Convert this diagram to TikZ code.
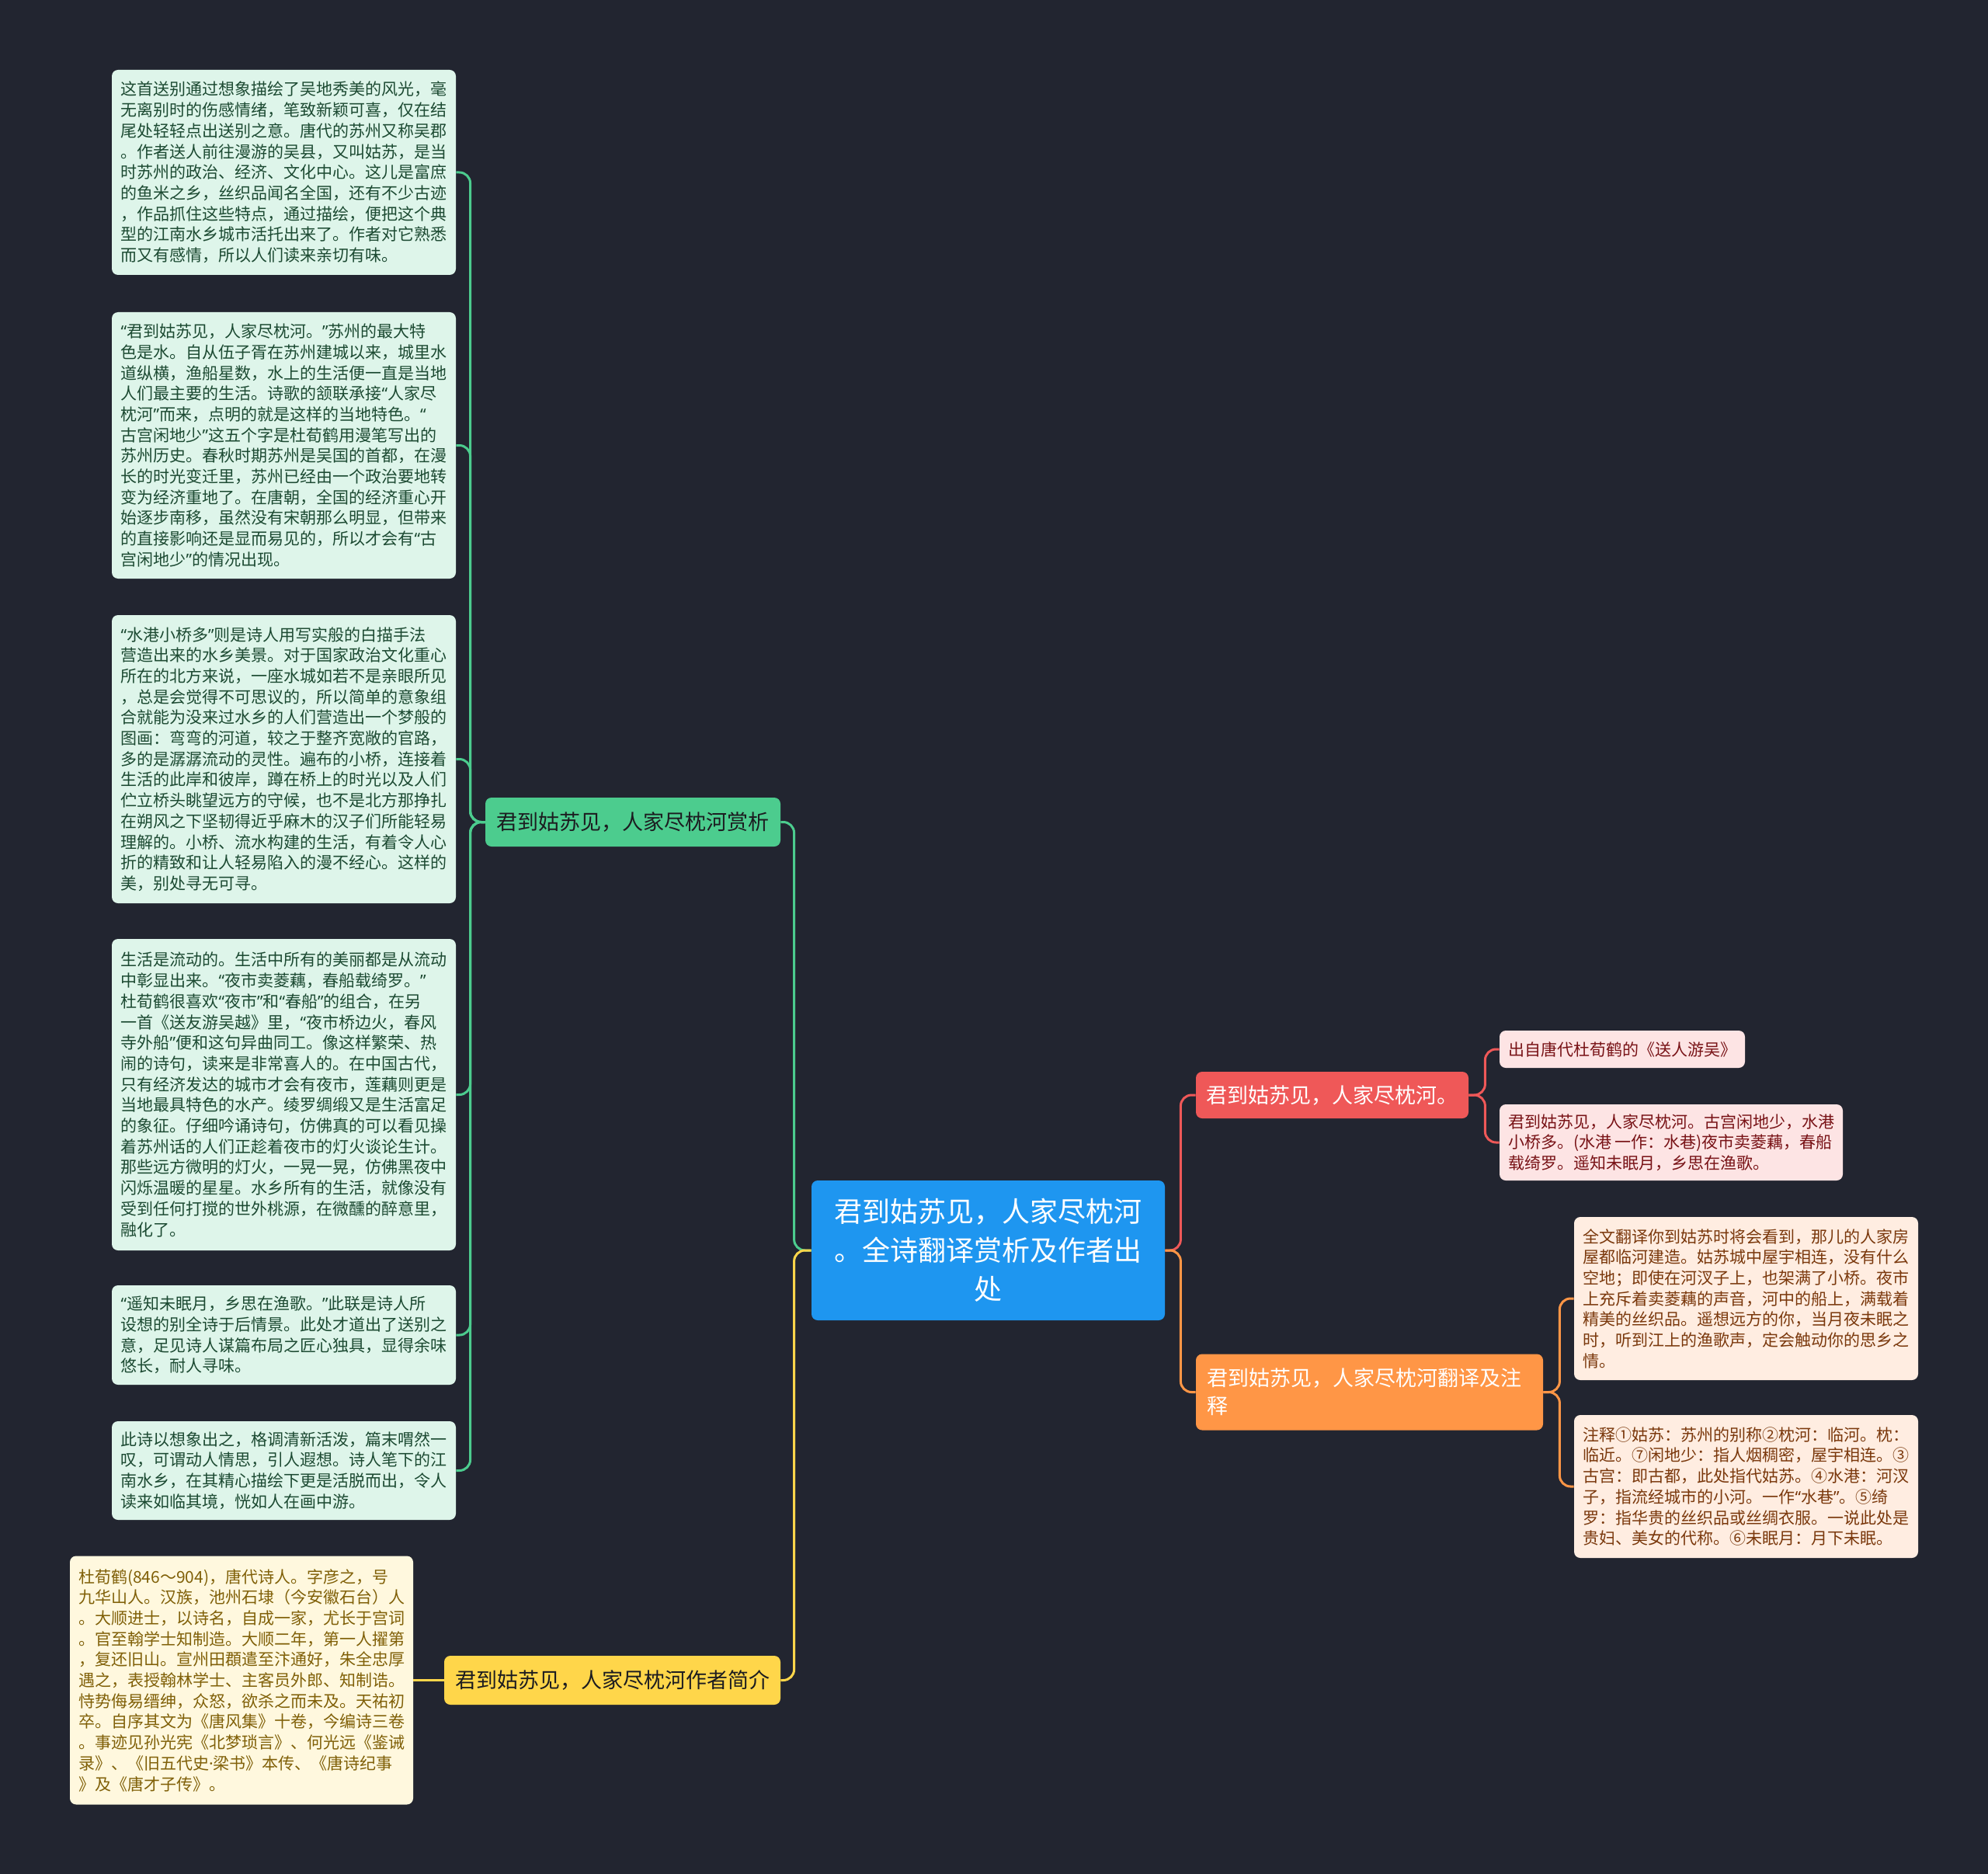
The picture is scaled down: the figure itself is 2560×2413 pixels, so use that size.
\documentclass[tikz,border=0pt]{standalone}
\usepackage{fontspec}
\setmainfont{Noto Sans CJK SC}
\newfontfamily\quotefont{Noto Sans}
\newcommand\qopen{{\quotefont “}}
\newcommand\qclose{{\quotefont ”}}
\newcommand\qdot{{\quotefont ·}}
\definecolor{night}{RGB}{34,37,48}
\definecolor{sky}{RGB}{30,150,240}
\definecolor{mint}{RGB}{76,204,142}
\definecolor{mintpale}{RGB}{222,245,234}
\definecolor{mintink}{RGB}{28,74,50}
\definecolor{sun}{RGB}{255,214,74}
\definecolor{sunpale}{RGB}{255,248,222}
\definecolor{sunink}{RGB}{128,96,8}
\definecolor{coral}{RGB}{239,88,88}
\definecolor{coralpale}{RGB}{253,228,228}
\definecolor{coralink}{RGB}{120,18,22}
\definecolor{tangerine}{RGB}{255,150,70}
\definecolor{tangerinepale}{RGB}{255,237,225}
\definecolor{tangerineink}{RGB}{122,56,12}
\definecolor{ink}{RGB}{28,28,32}
\tikzset{
  root/.style={fill=sky,text=white,rounded corners=4pt,inner sep=2pt,align=center,
    minimum width=227.5pt,minimum height=90pt,font=\fontsize{18pt}{25pt}\selectfont},
  branch/.style 2 args={fill=#1,text=#2,rounded corners=4pt,inner sep=2pt,
    font=\fontsize{13.5pt}{18pt}\selectfont},
  leaf/.style 2 args={fill=#1,text=#2,rounded corners=4pt,inner sep=2pt,align=left,
    minimum width=221.5pt,font=\fontsize{10.5pt}{13.35pt}\selectfont},
  link/.style={draw=#1,line width=1.5pt,rounded corners=7pt},
}
\begin{document}
\begin{tikzpicture}[x=0.5pt,y=-0.5pt]
  \fill[night] (0,0) rectangle (2560,2413);
  % centre
  \node[root] (root) at (1272.5,1610) {君到姑苏见，人家尽枕河\\。全诗翻译赏析及作者出\\处};
  % branches
  \node[branch={mint}{ink},minimum width=190pt,minimum height=31.5pt] (ana) at (815,1058.5) {君到姑苏见，人家尽枕河赏析};
  \node[branch={sun}{ink},minimum width=216.5pt,minimum height=31.5pt] (bio) at (788.5,2163.5) {君到姑苏见，人家尽枕河作者简介};
  \node[branch={coral}{white},minimum width=175.5pt,minimum height=30pt] (src) at (1715.5,1410) {君到姑苏见，人家尽枕河。};
  \node[branch={tangerine}{white},minimum width=223.5pt,minimum height=49pt,text width=209.5pt,align=left] (tr) at (1763.5,1792.5)
    {君到姑苏见，人家尽枕河翻译及注\\释};
  % analysis leaves
  \node[leaf={mintpale}{mintink},minimum height=132pt] (a1) at (365.5,222)
    {这首送别通过想象描绘了吴地秀美的风光，毫\\
     无离别时的伤感情绪，笔致新颖可喜，仅在结\\
     尾处轻轻点出送别之意。唐代的苏州又称吴郡\\
     。作者送人前往漫游的吴县，又叫姑苏，是当\\
     时苏州的政治、经济、文化中心。这儿是富庶\\
     的鱼米之乡，丝织品闻名全国，还有不少古迹\\
     ，作品抓住这些特点，通过描绘，便把这个典\\
     型的江南水乡城市活托出来了。作者对它熟悉\\
     而又有感情，所以人们读来亲切有味。};
  \node[leaf={mintpale}{mintink},minimum height=171.5pt] (a2) at (365.5,573.5)
    {\qopen 君到姑苏见，人家尽枕河。\qclose 苏州的最大特\\
     色是水。自从伍子胥在苏州建城以来，城里水\\
     道纵横，渔船星数，水上的生活便一直是当地\\
     人们最主要的生活。诗歌的颔联承接\qopen 人家尽\\
     枕河\qclose 而来，点明的就是这样的当地特色。\qopen\\
     古宫闲地少\qclose 这五个字是杜荀鹤用漫笔写出的\\
     苏州历史。春秋时期苏州是吴国的首都，在漫\\
     长的时光变迁里，苏州已经由一个政治要地转\\
     变为经济重地了。在唐朝，全国的经济重心开\\
     始逐步南移，虽然没有宋朝那么明显，但带来\\
     的直接影响还是显而易见的，所以才会有\qopen 古\\
     宫闲地少\qclose 的情况出现。};
  \node[leaf={mintpale}{mintink},minimum height=185.5pt] (a3) at (365.5,977.5)
    {\qopen 水港小桥多\qclose 则是诗人用写实般的白描手法\\
     营造出来的水乡美景。对于国家政治文化重心\\
     所在的北方来说，一座水城如若不是亲眼所见\\
     ，总是会觉得不可思议的，所以简单的意象组\\
     合就能为没来过水乡的人们营造出一个梦般的\\
     图画：弯弯的河道，较之于整齐宽敞的官路，\\
     多的是潺潺流动的灵性。遍布的小桥，连接着\\
     生活的此岸和彼岸，蹲在桥上的时光以及人们\\
     伫立桥头眺望远方的守候，也不是北方那挣扎\\
     在朔风之下坚韧得近乎麻木的汉子们所能轻易\\
     理解的。小桥、流水构建的生活，有着令人心\\
     折的精致和让人轻易陷入的漫不经心。这样的\\
     美，别处寻无可寻。};
  \node[leaf={mintpale}{mintink},minimum height=200.5pt] (a4) at (365.5,1409.5)
    {生活是流动的。生活中所有的美丽都是从流动\\
     中彰显出来。\qopen 夜市卖菱藕，春船载绮罗。\qclose\\
     杜荀鹤很喜欢\qopen 夜市\qclose 和\qopen 春船\qclose 的组合，在另\\
     一首《送友游吴越》里，\qopen 夜市桥边火，春风\\
     寺外船\qclose 便和这句异曲同工。像这样繁荣、热\\
     闹的诗句，读来是非常喜人的。在中国古代，\\
     只有经济发达的城市才会有夜市，莲藕则更是\\
     当地最具特色的水产。绫罗绸缎又是生活富足\\
     的象征。仔细吟诵诗句，仿佛真的可以看见操\\
     着苏州话的人们正趁着夜市的灯火谈论生计。\\
     那些远方微明的灯火，一晃一晃，仿佛黑夜中\\
     闪烁温暖的星星。水乡所有的生活，就像没有\\
     受到任何打搅的世外桃源，在微醺的醉意里，\\
     融化了。};
  \node[leaf={mintpale}{mintink},minimum height=64pt] (a5) at (365.5,1719)
    {\qopen 遥知未眠月，乡思在渔歌。\qclose 此联是诗人所\\
     设想的别全诗于后情景。此处才道出了送别之\\
     意，足见诗人谋篇布局之匠心独具，显得余味\\
     悠长，耐人寻味。};
  \node[leaf={mintpale}{mintink},minimum height=63.5pt] (a6) at (365.5,1893.5)
    {此诗以想象出之，格调清新活泼，篇末喟然一\\
     叹，可谓动人情思，引人遐想。诗人笔下的江\\
     南水乡，在其精心描绘下更是活脱而出，令人\\
     读来如临其境，恍如人在画中游。};
  % author leaf
  \node[leaf={sunpale}{sunink},minimum width=221pt,minimum height=160pt] (b1) at (311,2163.5)
    {杜荀鹤(846～904)，唐代诗人。字彦之，号\\
     九华山人。汉族，池州石埭（今安徽石台）人\\
     。大顺进士，以诗名，自成一家，尤长于宫词\\
     。官至翰学士知制造。大顺二年，第一人擢第\\
     ，复还旧山。宣州田頵遣至汴通好，朱全忠厚\\
     遇之，表授翰林学士、主客员外郎、知制诰。\\
     恃势侮易缙绅，众怒，欲杀之而未及。天祐初\\
     卒。自序其文为《唐风集》十卷，今编诗三卷\\
     。事迹见孙光宪《北梦琐言》、何光远《鉴诫\\
     录》、《旧五代史\qdot 梁书》本传、《唐诗纪事\\
     》及《唐才子传》。};
  % source leaves
  \node[leaf={coralpale}{coralink},minimum width=158pt,minimum height=24pt] (s1) at (2089,1351)
    {出自唐代杜荀鹤的《送人游吴》};
  \node[leaf={coralpale}{coralink},minimum width=221pt,minimum height=49pt] (s2) at (2152,1471)
    {君到姑苏见，人家尽枕河。古宫闲地少，水港\\
     小桥多。(水港 一作：水巷)夜市卖菱藕，春船\\
     载绮罗。遥知未眠月，乡思在渔歌。};
  % translation leaves
  \node[leaf={tangerinepale}{tangerineink},minimum height=105pt] (t1) at (2248.5,1672)
    {全文翻译你到姑苏时将会看到，那儿的人家房\\
     屋都临河建造。姑苏城中屋宇相连，没有什么\\
     空地；即使在河汊子上，也架满了小桥。夜市\\
     上充斥着卖菱藕的声音，河中的船上，满载着\\
     精美的丝织品。遥想远方的你，当月夜未眠之\\
     时，听到江上的渔歌声，定会触动你的思乡之\\
     情。};
  \node[leaf={tangerinepale}{tangerineink},minimum height=92pt] (t2) at (2248.5,1914)
    {注释①姑苏：苏州的别称②枕河：临河。枕：\\
     临近。⑦闲地少：指人烟稠密，屋宇相连。③\\
     古宫：即古都，此处指代姑苏。④水港：河汊\\
     子，指流经城市的小河。一作\qopen 水巷\qclose 。⑤绮\\
     罗：指华贵的丝织品或丝绸衣服。一说此处是\\
     贵妇、美女的代称。⑥未眠月：月下未眠。};
  % connectors
  \draw[link=mint] (root.west) -- ++(-22,0) |- (ana.east);
  \draw[link=sun] (root.west) -- ++(-22,0) |- (bio.east);
  \draw[link=coral] (root.east) -- ++(20,0) |- (src.west);
  \draw[link=tangerine] (root.east) -- ++(20,0) |- (tr.west);
  \foreach \n in {a1,a2,a3,a4,a5,a6}
    \draw[link=mint] (ana.west) -- ++(-19,0) |- (\n.east);
  \draw[link=sun] (bio.west) -- (bio.west -| b1.east);
  \foreach \n in {s1,s2}
    \draw[link=coral] (src.east) -- ++(21,0) |- (\n.west);
  \foreach \n in {t1,t2}
    \draw[link=tangerine] (tr.east) -- ++(21,0) |- (\n.west);
\end{tikzpicture}
\end{document}
